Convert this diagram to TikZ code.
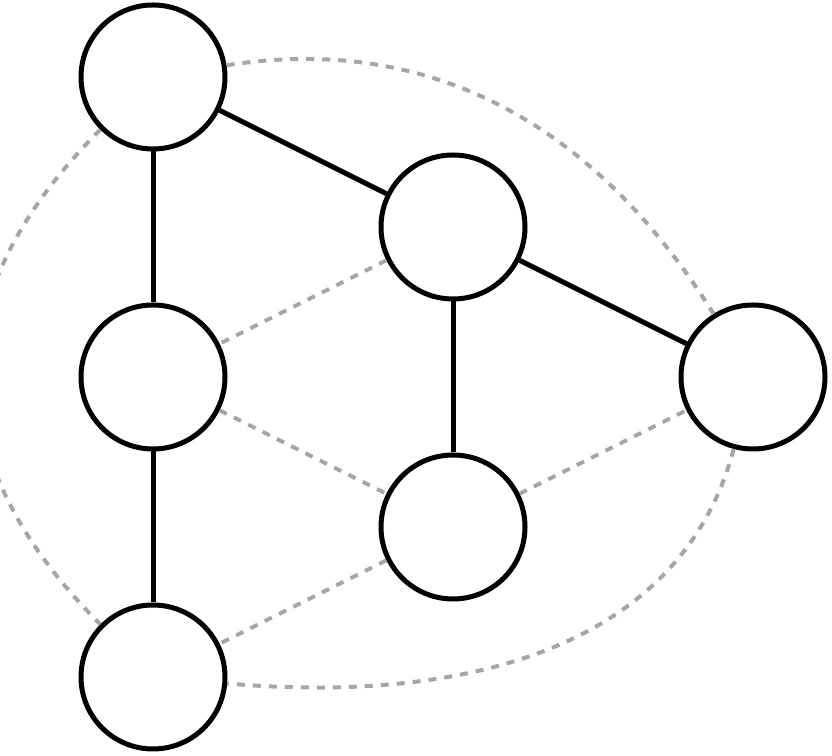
\documentclass[tikz,border=0pt]{standalone}
\begin{document}
\begin{tikzpicture}[x=0.75pt,y=0.75pt,
  v/.style={circle,draw=black,line width=3.75pt,fill=white,minimum size=144pt*0.75,inner sep=0pt},
  e/.style={line width=3.75pt,black},
  d/.style={line width=3pt,draw=black!35,dash pattern=on 6pt off 6pt}]
\useasboundingbox (0,0) rectangle (832,756);
\node[v] (A) at (153,679) {};
\node[v] (B) at (453,529) {};
\node[v] (C) at (153,379) {};
\node[v] (D) at (753,379) {};
\node[v] (E) at (453,229) {};
\node[v] (F) at (153,79) {};
\begin{scope}[on background layer/.style={}]
\end{scope}
\draw[d] (A) to[out=9,in=122] (D);
\draw[d] (A) to[out=225,in=135,looseness=1.2] (F);
\draw[d] (D) to[out=255,in=-5] (F);
\draw[d] (B) -- (C);
\draw[d] (C) -- (E);
\draw[d] (E) -- (F);
\draw[d] (E) -- (D);
\draw[e] (A) -- (B);
\draw[e] (A) -- (C);
\draw[e] (C) -- (F);
\draw[e] (B) -- (E);
\draw[e] (B) -- (D);
\end{tikzpicture}
\end{document}
